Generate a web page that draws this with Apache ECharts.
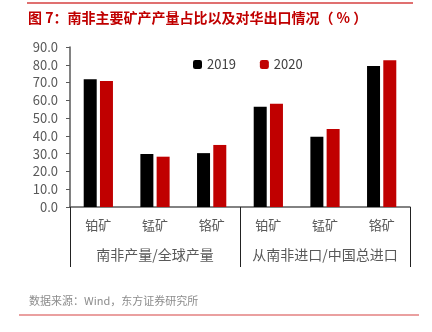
<!DOCTYPE html>
<html>
<head>
<meta charset="utf-8">
<script src="https://cdn.jsdelivr.net/npm/echarts@6/dist/echarts.min.js"></script>
<style>
  html, body { margin: 0; padding: 0; background: #fff; }
  #main { width: 432px; height: 332px; }
</style>
</head>
<body>
<div id="main"></div>
<script>
// 南非主要矿产：产量占比 & 对华出口占比
var minerals = ['铂矿', '锰矿', '铬矿', '铂矿', '锰矿', '铬矿'];
var groups = ['南非产量/全球产量', '从南非进口/中国总进口'];
var v2019 = [71.8, 29.8, 30.3, 56.4, 39.5, 79.3];
var v2020 = [70.9, 28.3, 34.9, 58.1, 43.9, 82.5];
var yTicks = { min: 0, max: 90, interval: 10 };

var font = '"Noto Sans CJK SC", sans-serif';
var grey = '#595959';
var W = 432, H = 332;
var gridBox = { left: 70, right: 22, top: 47, bottom: 125 };
var groupTickLen = 60;

var chart = echarts.init(document.getElementById('main'));

var option = {
    animation: false,
    textStyle: { fontFamily: font },
    title: {
        text: '图 7：南非主要矿产产量占比以及对华出口情况（ % ）',
        left: 23,
        top: 6,
        textStyle: { color: '#c00000', fontSize: 14, fontWeight: 'bold', fontFamily: font }
    },
    legend: {
        data: ['2019', '2020'],
        top: 53,
        left: 188,
        itemWidth: 9,
        itemHeight: 9,
        itemGap: 24,
        textStyle: { color: '#404040', fontSize: 13, fontFamily: font }
    },
    grid: gridBox,
    xAxis: [
        {
            type: 'category',
            data: minerals,
            axisLine: { lineStyle: { color: grey, width: 1.5 } },
            axisTick: { show: false },
            axisLabel: { color: grey, fontSize: 13, margin: 12, interval: 0 }
        },
        {
            type: 'category',
            data: groups,
            position: 'bottom',
            axisLine: { show: false },
            axisTick: { show: true, interval: 0, length: groupTickLen, lineStyle: { color: '#222', width: 1 } },
            axisLabel: { color: grey, fontSize: 14, margin: 41, interval: 0 }
        }
    ],
    yAxis: {
        type: 'value',
        min: yTicks.min,
        max: yTicks.max,
        interval: yTicks.interval,
        axisLine: { show: true, lineStyle: { color: grey, width: 1.5 } },
        axisTick: { show: true, length: 4, lineStyle: { color: grey } },
        splitLine: { show: false },
        axisLabel: {
            color: grey,
            fontSize: 13,
            margin: 12,
            formatter: function (v) { return v.toFixed(1); }
        }
    },
    series: [
        {
            name: '2019',
            type: 'bar',
            data: v2019,
            barWidth: 13,
            barGap: '25%',
            itemStyle: { color: '#000000' }
        },
        {
            name: '2020',
            type: 'bar',
            data: v2020,
            barWidth: 13,
            itemStyle: { color: '#c00000' }
        }
    ],
    graphic: [
        {
            type: 'rect',
            shape: { x: 27, y: 2, width: 386, height: 2 },
            style: { fill: '#e07070' }
        },
        {
            // closing boundary of the last group
            type: 'line',
            shape: {
                x1: W - gridBox.right + 0.5, y1: H - gridBox.bottom,
                x2: W - gridBox.right + 0.5, y2: H - gridBox.bottom + groupTickLen
            },
            style: { stroke: '#222', lineWidth: 1 }
        },
        {
            type: 'text',
            left: 29,
            top: 295,
            style: { text: '数据来源：Wind，东方证券研究所', fill: '#8c8c8c', fontSize: 11, fontFamily: font }
        },
        {
            type: 'rect',
            shape: { x: 19, y: 314, width: 400, height: 2 },
            style: { fill: '#eaa0a0' }
        }
    ]
};

chart.setOption(option);
</script>
</body>
</html>
